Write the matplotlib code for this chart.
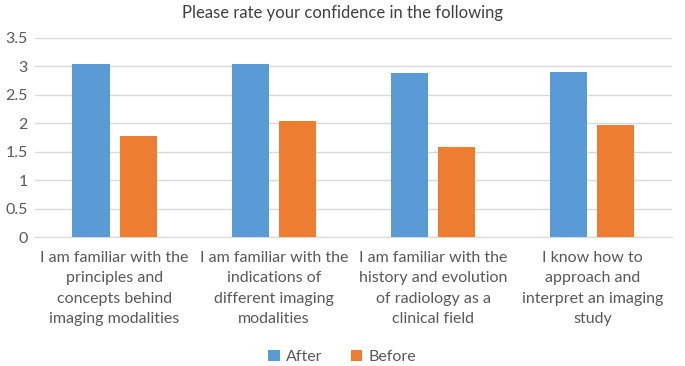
import numpy as np
import matplotlib
matplotlib.use("Agg")
from matplotlib import pyplot as plt

plt.rcParams['font.family'] = ['Lato', 'DejaVu Sans']

categories = [
    "I am familiar with the\nprinciples and\nconcepts behind\nimaging modalities",
    "I am familiar with the\nindications of\ndifferent imaging\nmodalities",
    "I am familiar with the\nhistory and evolution\nof radiology as a\nclinical field",
    "I know how to\napproach and\ninterpret an imaging\nstudy",
]
after = [3.04, 3.04, 2.88, 2.90]
before = [1.77, 2.04, 1.58, 1.97]
yticks = [0, 0.5, 1, 1.5, 2, 2.5, 3, 3.5]
ytick_labels = ["0", "0.5", "1", "1.5", "2", "2.5", "3", "3.5"]

text_color = '#595959'
grid_color = '#D9D9D9'

fig = plt.figure(figsize=(6.85, 3.66), dpi=100)
ax = fig.add_axes([0.051, 0.352, 0.93, 0.545])

x = np.arange(len(categories))
w = 0.233
ax.bar(x - 0.148, after, w, color='#5B9BD5', label='After', zorder=3)
ax.bar(x + 0.148, before, w, color='#ED7D31', label='Before', zorder=3)

ax.set_xlim(-0.5, len(categories) - 0.5)
ax.set_ylim(0, 3.5)
ax.set_yticks(yticks)
ax.set_yticklabels(ytick_labels)
ax.set_xticks(x)
ax.set_xticklabels(categories, linespacing=1.57, fontsize=11.5)

ax.yaxis.grid(True, color=grid_color, linewidth=1, zorder=0)
for s in ['top', 'right', 'left']:
    ax.spines[s].set_visible(False)
ax.spines['bottom'].set_color(grid_color)
ax.tick_params(axis='both', length=0, colors=text_color, labelsize=11.5)
ax.tick_params(axis='x', pad=10)
ax.tick_params(axis='y', pad=5)

fig.suptitle("Please rate your confidence in the following", y=0.985,
             fontsize=12, color='#404040')

fig.legend(loc='lower center', bbox_to_anchor=(0.5, -0.035), ncol=2, frameon=False,
           fontsize=11.5, labelcolor=text_color, handlelength=0.7, handleheight=0.7,
           handletextpad=0.4, columnspacing=1.8)

fig.savefig('out.png', dpi=100)
